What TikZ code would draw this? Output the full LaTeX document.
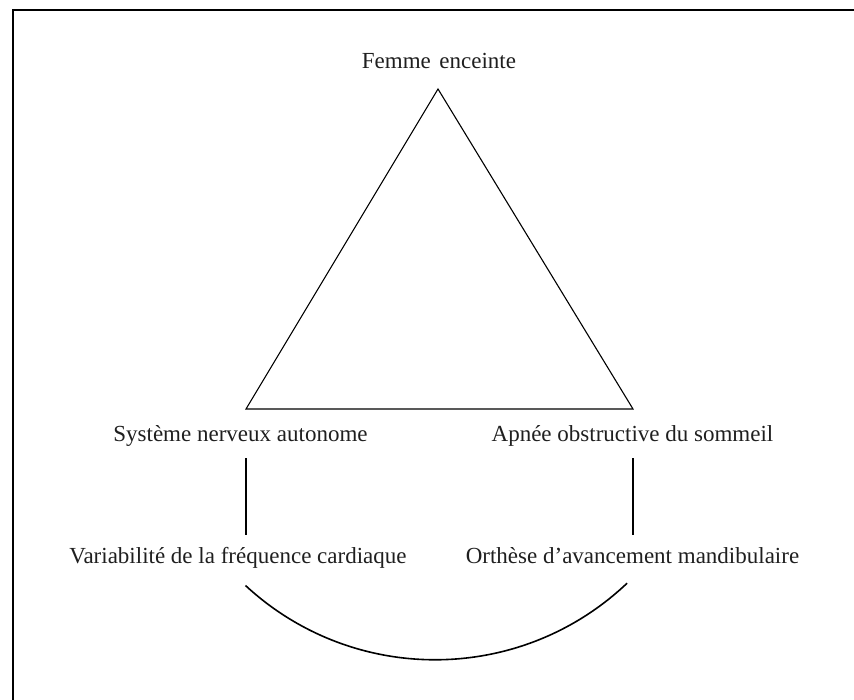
\documentclass[tikz,border=0pt]{standalone}
\usepackage{fontspec}
\setmainfont{Liberation Serif}
\begin{document}
\begin{tikzpicture}[x=1pt,y=-1pt,
  lbl/.style={inner sep=0pt, anchor=base, text=black!88, font=\fontsize{23}{27}\selectfont},
  thin line/.style={draw=black, line width=1.1pt},
  arcline/.style={draw=black, line width=1.6pt},
  frame/.style={draw=black, line width=2pt}]
\useasboundingbox (0,0) rectangle (854,700);
% frame (top and left edges only)
\draw[frame] (854,10.2) -- (12.5,10.2) -- (12.5,700);
% triangle
\coordinate (apex) at (438,89);
\coordinate (bl) at (246,409);
\coordinate (br) at (633,409);
\draw[thin line, line join=miter] (apex) -- (bl) -- (br) -- cycle;
% labels
\node[lbl] (fe) at (439,69) {Femme\hspace{0.12em} enceinte};
\node[lbl] (sna) at (240.5,441) {Système nerveux autonome};
\node[lbl] (aos) at (632.5,441) {Apnée obstructive du sommeil};
\node[lbl] (vfc) at (238,563) {Variabilité de la fréquence cardiaque};
\node[lbl] (oam) at (632.5,563) {Orthèse d’avancement mandibulaire};
% vertical connectors
\coordinate (l1) at (246,458);
\coordinate (l2) at (246,535);
\coordinate (r1) at (633,458);
\coordinate (r2) at (633,535);
\draw[thin line] (l1) -- (l2);
\draw[thin line] (r1) -- (r2);
% arc
\coordinate (a1) at (245.5,585.5);
\draw[arcline] (a1) arc[start angle=132.8, end angle=46.5, radius=279];
\end{tikzpicture}
\end{document}
